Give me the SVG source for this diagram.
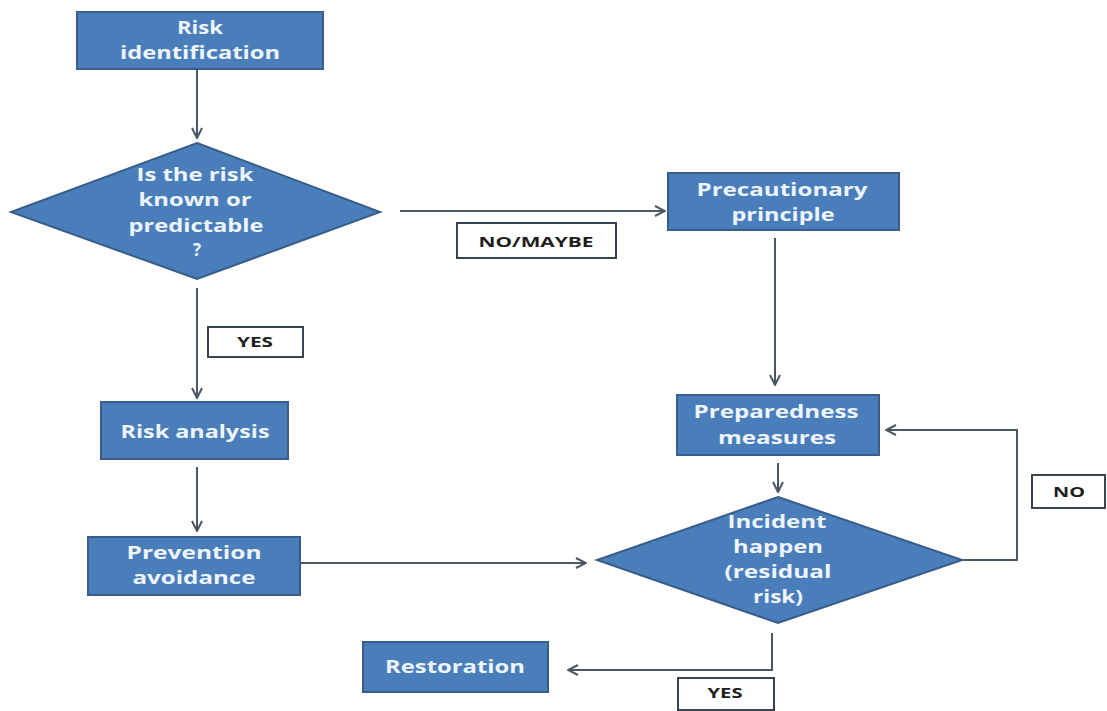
<svg xmlns="http://www.w3.org/2000/svg" width="1107" height="711" viewBox="0 0 1107 711">
<style>
.box{fill:#4a7ebb;stroke:#385d8a;stroke-width:2}
.t{font-family:"Open Sans","DejaVu Sans",sans-serif;font-weight:bold;font-size:17px;fill:#eef4fb;text-anchor:middle}
.lb{fill:#ffffff;stroke:#3a4450;stroke-width:2}
.lt{font-family:"Open Sans","DejaVu Sans",sans-serif;font-weight:bold;font-size:14px;fill:#1e1e1e;text-anchor:middle}
.c{fill:none;stroke:#4a5866;stroke-width:2}
</style>
<defs>
<marker id="ah" viewBox="0 0 12 12" refX="11" refY="6" markerWidth="12" markerHeight="12" markerUnits="userSpaceOnUse" orient="auto">
<path d="M1,1 L11,6 L1,11" fill="none" stroke="#4a5866" stroke-width="2"/>
</marker>
</defs>
<rect width="1107" height="711" fill="#ffffff"/>
<g id="connectors">
<path class="c" d="M197,70 V138" marker-end="url(#ah)"/>
<path class="c" d="M400,211 H665" marker-end="url(#ah)"/>
<path class="c" d="M197,288 V398" marker-end="url(#ah)"/>
<path class="c" d="M197,467 V531" marker-end="url(#ah)"/>
<path class="c" d="M775,238 V385" marker-end="url(#ah)"/>
<path class="c" d="M778,463 V492" marker-end="url(#ah)"/>
<path class="c" d="M301,563 H586" marker-end="url(#ah)"/>
<path class="c" d="M962,560 H1017 V430 H886" marker-end="url(#ah)"/>
<path class="c" d="M772,633 V670 H568" marker-end="url(#ah)"/>
</g>
<g id="label-nomaybe">
<rect class="lb" x="457" y="223" width="159" height="35"/>
<text class="lt" x="536" y="247" textLength="115" lengthAdjust="spacingAndGlyphs">NO/MAYBE</text>
</g>
<g id="label-yes1">
<rect class="lb" x="208" y="327" width="95" height="30"/>
<text class="lt" x="255" y="347" textLength="36" lengthAdjust="spacingAndGlyphs">YES</text>
</g>
<g id="label-no">
<rect class="lb" x="1032" y="475" width="73" height="33"/>
<text class="lt" x="1069" y="497" textLength="32" lengthAdjust="spacingAndGlyphs">NO</text>
</g>
<g id="label-yes2">
<rect class="lb" x="678" y="678" width="96" height="32"/>
<text class="lt" x="725" y="698" textLength="35" lengthAdjust="spacingAndGlyphs">YES</text>
</g>
<g id="risk-identification">
<rect class="box" x="77" y="12" width="246" height="57"/>
<text class="t" x="200" y="34" textLength="46" lengthAdjust="spacingAndGlyphs">Risk</text>
<text class="t" x="200" y="59" textLength="160" lengthAdjust="spacingAndGlyphs">identification</text>
</g>
<g id="is-risk-known">
<polygon class="box" points="197,143 380,212 197,279 11,212"/>
<text class="t" x="195" y="181" textLength="117" lengthAdjust="spacingAndGlyphs">Is the risk</text>
<text class="t" x="195" y="206" textLength="113" lengthAdjust="spacingAndGlyphs">known or</text>
<text class="t" x="196" y="232" textLength="135" lengthAdjust="spacingAndGlyphs">predictable</text>
<text class="t" x="197" y="256">?</text>
</g>
<g id="precautionary-principle">
<rect class="box" x="668" y="173" width="231" height="57"/>
<text class="t" x="782" y="196" textLength="171" lengthAdjust="spacingAndGlyphs">Precautionary</text>
<text class="t" x="783" y="221" textLength="103" lengthAdjust="spacingAndGlyphs">principle</text>
</g>
<g id="risk-analysis">
<rect class="box" x="101" y="402" width="187" height="57"/>
<text class="t" x="195" y="438" textLength="149" lengthAdjust="spacingAndGlyphs">Risk analysis</text>
</g>
<g id="prevention-avoidance">
<rect class="box" x="88" y="537" width="212" height="58"/>
<text class="t" x="194" y="559" textLength="135" lengthAdjust="spacingAndGlyphs">Prevention</text>
<text class="t" x="194" y="584" textLength="123" lengthAdjust="spacingAndGlyphs">avoidance</text>
</g>
<g id="preparedness-measures">
<rect class="box" x="677" y="395" width="202" height="60"/>
<text class="t" x="776" y="418" textLength="165" lengthAdjust="spacingAndGlyphs">Preparedness</text>
<text class="t" x="777" y="444" textLength="118" lengthAdjust="spacingAndGlyphs">measures</text>
</g>
<g id="incident-happen">
<polygon class="box" points="778,497 962,560 778,623 597,560"/>
<text class="t" x="777" y="528" textLength="99" lengthAdjust="spacingAndGlyphs">Incident</text>
<text class="t" x="778" y="553" textLength="90" lengthAdjust="spacingAndGlyphs">happen</text>
<text class="t" x="778" y="578" textLength="107" lengthAdjust="spacingAndGlyphs">(residual</text>
<text class="t" x="778" y="603" textLength="50" lengthAdjust="spacingAndGlyphs">risk)</text>
</g>
<g id="restoration">
<rect class="box" x="363" y="642" width="185" height="50"/>
<text class="t" x="455" y="673" textLength="140" lengthAdjust="spacingAndGlyphs">Restoration</text>
</g>
</svg>
